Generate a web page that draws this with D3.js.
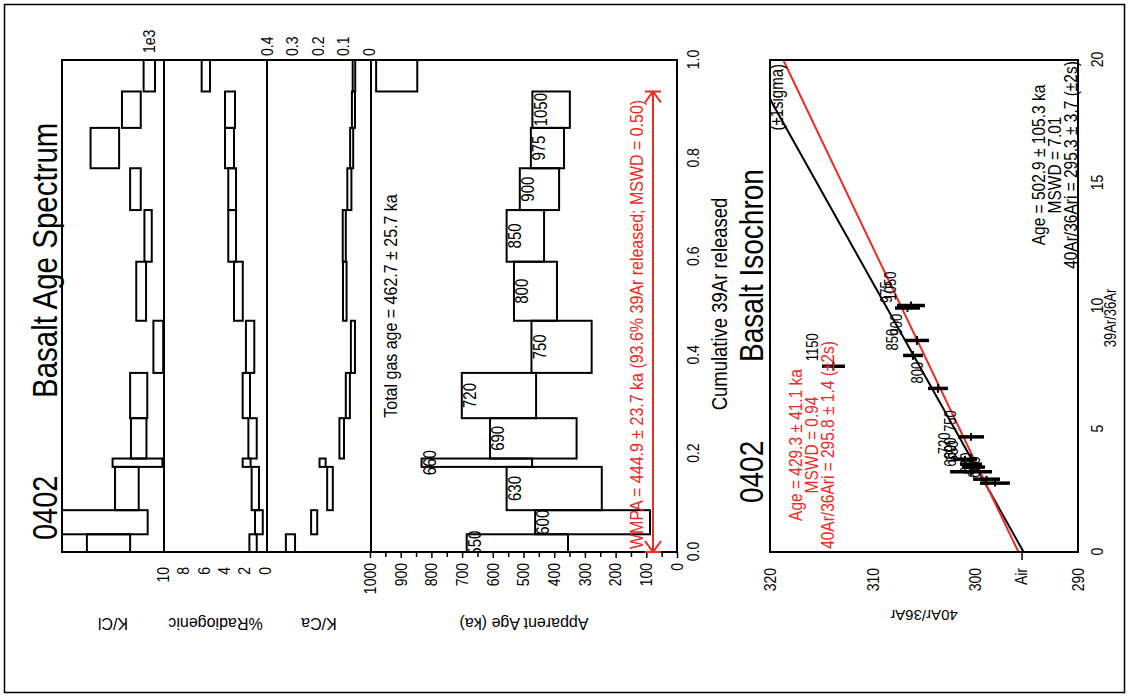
<!DOCTYPE html>
<html>
<head>
<meta charset="utf-8">
<script src="https://cdn.jsdelivr.net/npm/d3@7"></script>
<style>
  body { margin: 0; background: #fff; }
  text { font-family: "Liberation Sans", Arial, Helvetica, sans-serif; }
</style>
</head>
<body>
<svg id="chart" width="1129" height="697"></svg>
<script>
// ---------- step-heating data (sample 0402, basalt) ----------
const steps     = ["550","600","630","660","690","720","750","800","850","900","975","1050","1150"];
const cumStart  = [0.000, 0.036, 0.085, 0.173, 0.190, 0.272, 0.364, 0.470, 0.590, 0.695, 0.780, 0.862, 0.936];
const ageKa     = [520, 275, 400, 652, 468, 580, 376, 461, 494, 448, 422, 410, 913];
const ageErr    = [165, 187, 155, 180, 141, 121,  98,  70,  61,  64,  54,  61,  67];
const kca       = [0.308, 0.215, 0.153, 0.182, 0.107, 0.083, 0.063, 0.095, 0.097, 0.077, 0.068, 0.061, 0.059];
const kcaErr    = [0.018, 0.012, 0.011, 0.012, 0.009, 0.008, 0.008, 0.007, 0.006, 0.008, 0.006, 0.006, 0.005];
const radiogenic    = [1.17, 0.60, 0.95, 1.80, 1.22, 1.83, 1.46, 2.61, 3.22, 3.22, 3.48, 3.43, 5.80];
const radiogenicErr = [0.36, 0.38, 0.36, 0.39, 0.41, 0.36, 0.41, 0.43, 0.38, 0.38, 0.44, 0.49, 0.41];
const kcl       = [1.36, 1.90, 0.91, 0.65, 0.62, 0.62, 0.14, 0.56, 0.39, 0.70, 1.45, 0.80, 0.36];   // x1e3
const kclErr    = [0.53, 1.50, 0.29, 0.61, 0.19, 0.21, 0.12, 0.12, 0.09, 0.13, 0.35, 0.23, 0.14];

// isochron ratios for the same steps
const ar39ar36    = [3.45, 2.80, 2.96, 3.26, 3.57, 3.77, 4.68, 6.65, 7.99, 8.60, 9.92, 10.02, 7.55];
const ar39ar36Err = [0.14, 0.14, 0.14, 0.16, 0.14, 0.14, 0.16, 0.18, 0.18, 0.18, 0.16, 0.16, 0.18];
const ar40ar36    = [300.18, 298.09, 298.91, 300.42, 300.42, 301.01, 300.42, 303.64, 306.07, 305.68, 306.61, 306.27, 313.82];
const ar40ar36Err = [1.12, 1.46, 1.31, 2.05, 1.07, 1.17, 1.27, 0.97, 0.97, 1.17, 1.22, 1.36, 1.12];

// results
const plateauSteps = 12;                   // 550 .. 1050 °C
const wmpa = { age: 444.9, err: 23.7, pct: 93.6, mswd: 0.50 };
const totalGas = { age: 462.7, err: 25.7 };
const isoAll     = { age: 502.9, err: 105.3, mswd: 7.01, ri: 295.3, riErr: 3.7 };
const isoPlateau = { age: 429.3, err: 41.1,  mswd: 0.94, ri: 295.8, riErr: 1.4 };
const AIR = 295.5;
const LAMBDA = 5.543e-10;   // total 40K decay constant, 1/yr
const J = 2.078e-4;         // irradiation parameter

// axis tick values
const ageTicks     = d3.range(0, 1001, 100);
const ageMinor     = d3.range(50, 1000, 100);
const cumTicks     = [0, 0.2, 0.4, 0.6, 0.8, 1.0];
const radTicks     = [0, 2, 4, 6, 8, 10];
const kcaTicks     = [0, 0.1, 0.2, 0.3, 0.4];
const iso39Ticks   = [0, 5, 10, 15, 20];
const iso40Ticks   = [290, 300, 310, 320];

const cumEnd = cumStart.slice(1).concat([1]);

// ---------- drawing ----------
const W = 1129, H = 697;
const RED = "#ee2a24";
const S = 1.2;              // page is stretched across its short side
const svg = d3.select("#chart");
svg.append("rect").attr("width", W).attr("height", H).attr("fill", "#fff");
svg.append("rect").attr("x", 4.5).attr("y", 4.5).attr("width", W - 9).attr("height", H - 9)
   .attr("fill", "none").attr("stroke", "#000").attr("stroke-width", 1.5);

// the whole figure is laid out as a portrait page and turned a quarter turn
const root = svg.append("g").attr("transform", `translate(0,${H}) rotate(-90)`);

// text placed with the page stretch applied to the glyphs
function txt(x, y, str, fs, opts = {}) {
  return root.append("text")
    .attr("transform", `translate(${x},${y}) scale(1,${S})`)
    .attr("text-anchor", opts.anchor || "start")
    .attr("font-size", fs).attr("fill", opts.fill || "#000").text(str);
}

const U0 = 145, U1 = 637;                 // horizontal extent of both plots
const panel = { kcl: [62, 164], rad: [164, 267], kca: [267, 371], age: [371, 677], iso: [770, 1078] };

const xCum = d3.scaleLinear().domain([0, 1]).range([U0, U1]);
const yAge = d3.scaleLinear().domain([0, 1000]).range([677, 370]);
const yKca = d3.scaleLinear().domain([0, 0.4]).range([369, 267]);
const yRad = d3.scaleLinear().domain([0, 10]).range([265, 163]);
const yKcl = d3.scaleLinear().domain([0, 2.5]).range([164, 62]);
const xIso = d3.scaleLinear().domain([0, 20]).range([U0, U1]);
const yIso = d3.scaleLinear().domain([290, 320]).range([1078, 770]);

const defs = root.append("defs");
function clip(id, v) {
  defs.append("clipPath").attr("id", id).append("rect")
      .attr("x", U0).attr("y", v[0]).attr("width", U1 - U0).attr("height", v[1] - v[0]);
  return `url(#${id})`;
}

function stepBoxes(key, vals, errs, y, sw) {
  const g = root.append("g").attr("clip-path", clip("clip-" + key, panel[key]));
  g.selectAll("rect").data(steps).join("rect")
    .attr("x", (d, i) => xCum(cumStart[i]))
    .attr("width", (d, i) => xCum(cumEnd[i]) - xCum(cumStart[i]))
    .attr("y", (d, i) => y(vals[i] + errs[i]))
    .attr("height", (d, i) => y(vals[i] - errs[i]) - y(vals[i] + errs[i]))
    .attr("fill", "none").attr("stroke", "#000").attr("stroke-width", sw);
  return g;
}

stepBoxes("kcl", kcl, kclErr, yKcl, 2);
stepBoxes("rad", radiogenic, radiogenicErr, yRad, 2);
stepBoxes("kca", kca, kcaErr, yKca, 2);
const ageG = stepBoxes("age", ageKa, ageErr, yAge, 2);

// step temperature labels inside the plateau boxes
ageG.selectAll("text.step").data(steps.slice(0, plateauSteps)).join("text")
  .attr("class", "step")
  .attr("transform", (d, i) => `translate(${(xCum(cumStart[i]) + xCum(cumEnd[i])) / 2},${yAge(ageKa[i] + ageErr[i]) + 1}) scale(1,${S})`)
  .attr("dy", "0.74em")
  .attr("text-anchor", "middle").attr("font-size", 15).text(d => d);

// panel frames
root.append("rect").attr("x", U0).attr("y", panel.kcl[0]).attr("width", U1 - U0)
    .attr("height", panel.age[1] - panel.kcl[0]).attr("fill", "none").attr("stroke", "#000").attr("stroke-width", 2);
[panel.rad[0], panel.kca[0], panel.age[0]].forEach(v =>
  root.append("line").attr("x1", U0).attr("x2", U1).attr("y1", v).attr("y2", v)
      .attr("stroke", "#000").attr("stroke-width", 2));

// axes of the spectrum
function styleAxis(g, fs) {
  g.select(".domain").remove();
  g.selectAll("text").attr("font-size", fs).attr("fill", "#000").attr("transform", `scale(1,${S})`);
  g.selectAll("line").attr("stroke", "#000").attr("stroke-width", 1.5);
}
root.append("g").attr("transform", `translate(${U0},0)`)
  .call(d3.axisLeft(yAge).tickValues(ageTicks).tickSize(6).tickPadding(5).tickFormat(d3.format("d")))
  .call(g => styleAxis(g, 14));
root.append("g").attr("transform", `translate(${U0},0)`)
  .call(d3.axisLeft(yAge).tickValues(ageMinor).tickSize(5).tickFormat(""))
  .call(g => styleAxis(g, 14));
root.append("g").attr("transform", `translate(${U0},0)`)
  .call(d3.axisLeft(yRad).tickValues(radTicks).tickSize(0).tickPadding(15).tickFormat(d3.format("d")))
  .call(g => styleAxis(g, 14));
root.append("g").attr("transform", `translate(${U1},0)`)
  .call(d3.axisRight(yKca).tickValues(kcaTicks).tickSize(0).tickPadding(4).tickFormat(d => d === 0 ? "0" : d3.format(".1f")(d)))
  .call(g => styleAxis(g, 14));
root.append("g").attr("transform", `translate(0,${panel.age[1]})`)
  .call(d3.axisBottom(xCum).tickValues(cumTicks).tickSize(0).tickPadding(10 / S).tickFormat(d3.format(".1f")))
  .call(g => styleAxis(g, 14));

txt(U1 + 7, 155, "1e3", 14);

// axis titles (read sideways)
const yTitles = [["K/Cl", panel.kcl], ["%Radiogenic", panel.rad], ["K/Ca", panel.kca], ["Apparent Age (ka)", panel.age]];
yTitles.forEach(([t, v]) => {
  root.append("text").attr("transform", `translate(79,${(v[0] + v[1]) / 2}) rotate(-90)`)
      .attr("text-anchor", "middle").attr("font-size", 16).text(t);
});
txt((U0 + U1) / 2 + 2, 727, "Cumulative 39Ar released", 18.5, { anchor: "middle" });

// titles
txt(157, 57, "0402", 29);
txt(299, 57, "Basalt Age Spectrum", 29.5);

// total gas age and plateau
txt((U0 + U1) / 2, 397, `Total gas age = ${totalGas.age.toFixed(1)} ± ${totalGas.err.toFixed(1)} ka`, 16, { anchor: "middle" });

const arrowV = yAge(0) - 24;
const pu0 = xCum(cumStart[0]), pu1 = xCum(cumEnd[plateauSteps - 1]);
const arrow = root.append("g").attr("stroke", RED).attr("stroke-width", 2).attr("fill", "none");
arrow.append("line").attr("x1", pu0).attr("x2", pu1).attr("y1", arrowV).attr("y2", arrowV);
[[pu1, -1], [pu0, 1]].forEach(([u, s]) => {
  arrow.append("path").attr("d",
    `M${u + s * 11},${arrowV - 8}L${u},${arrowV}L${u + s * 11},${arrowV + 8}M${u},${arrowV - 8}L${u},${arrowV + 8}`);
});
txt(pu0 + 3, arrowV - 10,
    `WMPA = ${wmpa.age.toFixed(1)} ± ${wmpa.err.toFixed(1)} ka (${wmpa.pct.toFixed(1)}% 39Ar released; MSWD = ${wmpa.mswd.toFixed(2)})`,
    16, { fill: RED });

// ---------- isochron ----------
const isoClip = clip("clip-iso", panel.iso);
const isoG = root.append("g").attr("clip-path", isoClip);
function slope(ageKaVal) { return (Math.exp(LAMBDA * ageKaVal * 1e3) - 1) / J; }
const fitLine = d3.line().x(d => xIso(d[0])).y(d => yIso(d[1]));
[[isoAll, "#000"], [isoPlateau, RED]].forEach(([fit, col]) => {
  const m = slope(fit.age);
  isoG.append("path").attr("d", fitLine([[0, fit.ri], [20, fit.ri + 20 * m]]))
      .attr("stroke", col).attr("stroke-width", 2).attr("fill", "none");
});
const pts = isoG.selectAll("g.pt").data(steps).join("g").attr("class", "pt");
pts.append("line")
  .attr("x1", (d, i) => xIso(ar39ar36[i])).attr("x2", (d, i) => xIso(ar39ar36[i]))
  .attr("y1", (d, i) => yIso(ar40ar36[i] + ar40ar36Err[i])).attr("y2", (d, i) => yIso(ar40ar36[i] - ar40ar36Err[i]))
  .attr("stroke", "#000").attr("stroke-width", 3.5);
pts.append("line")
  .attr("x1", (d, i) => xIso(ar39ar36[i] - ar39ar36Err[i])).attr("x2", (d, i) => xIso(ar39ar36[i] + ar39ar36Err[i]))
  .attr("y1", (d, i) => yIso(ar40ar36[i])).attr("y2", (d, i) => yIso(ar40ar36[i]))
  .attr("stroke", "#000").attr("stroke-width", 2);
pts.append("text")
  .attr("transform", (d, i) => `translate(${xIso(ar39ar36[i]) + 5},${yIso(ar40ar36[i]) - 15}) scale(1,${S})`)
  .attr("font-size", 13).text(d => d);

root.append("rect").attr("x", U0).attr("y", panel.iso[0]).attr("width", U1 - U0)
    .attr("height", panel.iso[1] - panel.iso[0]).attr("fill", "none").attr("stroke", "#000").attr("stroke-width", 2);

root.append("g").attr("transform", `translate(0,${panel.iso[1]})`)
  .call(d3.axisBottom(xIso).tickValues(iso39Ticks).tickSize(0).tickPadding(13 / S).tickFormat(d3.format("d")))
  .call(g => styleAxis(g, 14));
root.append("g").attr("transform", `translate(${U0},0)`)
  .call(d3.axisLeft(yIso).tickValues(iso40Ticks).tickSize(0).tickPadding(16).tickFormat(d3.format("d")))
  .call(g => styleAxis(g, 14));
root.append("g").attr("transform", `translate(${U0},0)`)
  .call(d3.axisLeft(yIso).tickValues([AIR]).tickSize(8).tickPadding(8).tickFormat(() => "Air"))
  .call(g => styleAxis(g, 14));

root.append("text").attr("transform", `translate(87,${(panel.iso[0] + panel.iso[1]) / 2}) rotate(-90)`)
    .attr("text-anchor", "middle").attr("font-size", 15).text("40Ar/36Ar");
txt(379, 1116, "39Ar/36Ar", 13, { anchor: "middle" });

txt(194, 763, "0402", 28);
txt(335, 763, "Basalt Isochron", 28);
txt(U1 - 4, 783, "(±1sigma)", 15, { anchor: "end" });

function resultBlock(fit, uCenter, v0, col) {
  const lines = [
    `Age = ${fit.age.toFixed(1)} ± ${fit.err.toFixed(1)} ka`,
    `MSWD = ${fit.mswd.toFixed(2)}`,
    `40Ar/36Ari = ${fit.ri.toFixed(1)} ± ${fit.riErr.toFixed(1)} (±2s)`
  ];
  lines.forEach((t, k) => txt(uCenter, v0 + k * 16, t, 15.5, { anchor: "middle", fill: col }));
}
resultBlock(isoAll, 532, 1045, "#000");
resultBlock(isoPlateau, 252, 802, RED);
</script>
</body>
</html>
